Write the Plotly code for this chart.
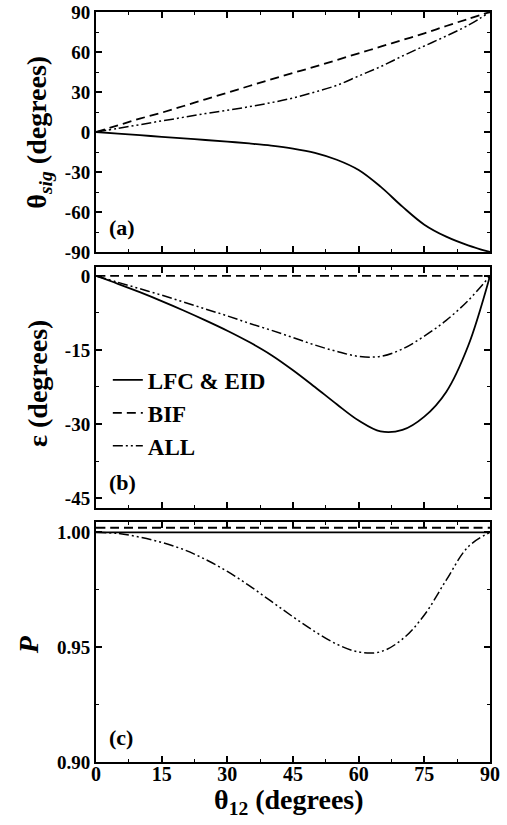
import plotly.graph_objects as go

theta12 = [0, 5, 10, 15, 20, 25, 30, 35, 40, 45, 50, 55, 60, 65, 70, 75, 80, 85, 90]

# panel (a): theta_sig
sig_lfc = [0, -1.2, -2.4, -3.6, -4.8, -6, -7.2, -8.6, -10.2, -12.4, -15.6, -20.8, -28.5, -41, -56, -69.5, -78.5, -85, -90]
sig_bif = [0, 5, 10, 14.5, 19.5, 24.5, 29.5, 34.5, 39.5, 44.3, 49, 54, 59, 64, 69, 74, 79.5, 84.8, 90]
sig_all = [0, 2.7, 5.5, 8.3, 11, 13.8, 16.3, 19, 22, 25.5, 30, 35, 42, 49, 57, 64.5, 72, 80, 90]

# panel (b): epsilon
eps_lfc = [0, -1.6, -3.3, -5.1, -7.0, -9.0, -11.1, -13.4, -16.0, -19.1, -22.5, -26.0, -29.3, -31.5, -31.2, -28.5, -23.5, -14.2, 0]
eps_bif = [0] * 19
eps_all = [0, -1.3, -2.6, -3.9, -5.3, -6.7, -8.1, -9.6, -11.0, -12.5, -14.0, -15.3, -16.3, -16.3, -14.8, -12.2, -9.0, -5.0, 0]

# panel (c): P
p_lfc = [1.0] * 19
p_bif = [1.002] * 19
p_all = [1.0, 0.9995, 0.9979, 0.9956, 0.9925, 0.9882, 0.9830, 0.9768, 0.9700, 0.9632, 0.9568,
         0.9513, 0.9479, 0.9480, 0.9535, 0.9640, 0.9792, 0.9937, 1.0]

series_names = ["LFC & EID", "BIF", "ALL"]

x_ticks = [0, 15, 30, 45, 60, 75, 90]
x_ticktext = ["0", "15", "30", "45", "60", "75", "90"]
ya_ticks = [90, 60, 30, 0, -30, -60, -90]
ya_text = ["90", "60", "30", "0", "-30", "-60", "-90"]
yb_ticks = [0, -15, -30, -45]
yb_text = ["0", "-15", "-30", "-45"]
yc_ticks = [1.00, 0.95, 0.90]
yc_text = ["1.00", "0.95", "0.90"]

FONT = "Liberation Serif"
styles = [
    dict(color="black", width=1.8, dash="solid"),
    dict(color="black", width=1.8, dash="9px,5px"),
    dict(color="black", width=1.5, dash="10px,3px,2px,3px,2px,3px"),
]

fig = go.Figure()
panels = [
    ("x", "y", [sig_lfc, sig_bif, sig_all], False),
    ("x2", "y2", [eps_lfc, eps_bif, eps_all], True),
    ("x3", "y3", [p_lfc, p_bif, p_all], False),
]
for xa, ya, ys, show in panels:
    for name, yv, st in zip(series_names, ys, styles):
        fig.add_trace(go.Scatter(x=theta12, y=yv, mode="lines", name=name,
                                 line=dict(shape="spline", smoothing=1.0, **st),
                                 xaxis=xa, yaxis=ya, showlegend=show))

axis_common = dict(showline=True, linecolor="black", linewidth=2, mirror="allticks",
                   ticks="inside", ticklen=6, tickwidth=1.5, tickcolor="black",
                   showgrid=False, zeroline=False, automargin=False,
                   tickfont=dict(family=FONT, size=19, color="black", weight="bold"),
                   minor=dict(ticks="inside", ticklen=3, tickcolor="black", tickwidth=1))

doms = [[0.68, 1.0], [0.3387, 0.66], [0.0, 0.32]]
anchors = ["y", "y2", "y3"]
for i, (key, dom) in enumerate(zip(["xaxis", "xaxis2", "xaxis3"], doms)):
    fig.layout[key] = dict(axis_common, range=[0, 90], tickvals=x_ticks, ticktext=x_ticktext,
                           anchor=anchors[i], domain=[0, 1], showticklabels=(i == 2),
                           minor=dict(axis_common["minor"], dtick=7.5, tick0=0))
fig.layout["xaxis3"].tickfont.size = 20
fig.layout["xaxis3"].ticklabelstandoff = -7

fig.layout["yaxis"] = dict(axis_common, range=[-90, 90], tickvals=ya_ticks, ticktext=ya_text,
                           domain=doms[0], anchor="x", minor=dict(axis_common["minor"], dtick=15, tick0=0))
fig.layout["yaxis2"] = dict(axis_common, range=[-47, 1.8], tickvals=yb_ticks, ticktext=yb_text,
                            domain=doms[1], anchor="x2", minor=dict(axis_common["minor"], dtick=7.5, tick0=0))
fig.layout["yaxis3"] = dict(axis_common, range=[0.90, 1.0045], tickvals=yc_ticks, ticktext=yc_text,
                            domain=doms[2], anchor="x3", minor=dict(axis_common["minor"], dtick=0.025, tick0=0.9))

ann_font = dict(family=FONT, size=28, color="black")
annotations = [
    dict(text="<b>θ<sub><i>sig</i></sub> (degrees)</b>", x=-0.148, y=0.84, textangle=-90),
    dict(text="<b>ε (degrees)</b>", x=-0.148, y=0.505, textangle=-90),
    dict(text="<b><i>P</i></b>", x=-0.172, y=0.156, textangle=-90),
    dict(text="<b>θ<sub>12</sub> (degrees)</b>", x=0.49, y=-0.053, textangle=0),
]
for a in annotations:
    fig.add_annotation(xref="paper", yref="paper", xanchor="center", yanchor="middle",
                       showarrow=False, font=ann_font, **a)

for lab, xr, yr, yy in [("(a)", "x domain", "y domain", 0.1), ("(b)", "x2 domain", "y2 domain", 0.106),
                        ("(c)", "x3 domain", "y3 domain", 0.104)]:
    fig.add_annotation(text="<b>" + lab + "</b>", xref=xr, yref=yr, x=0.028, y=yy,
                       xanchor="left", yanchor="middle", showarrow=False,
                       font=dict(family=FONT, size=22, color="black"))

fig.update_layout(
    width=507, height=825,
    margin=dict(l=96, r=17, t=12, b=63),
    paper_bgcolor="white", plot_bgcolor="white",
    legend=dict(x=0.03, y=0.538, xanchor="left", yanchor="top", xref="paper", yref="paper",
                bgcolor="rgba(0,0,0,0)", font=dict(family=FONT, size=23, color="black", weight="bold"),
                itemwidth=30, tracegroupgap=0),
)

fig.write_html("out.html")
